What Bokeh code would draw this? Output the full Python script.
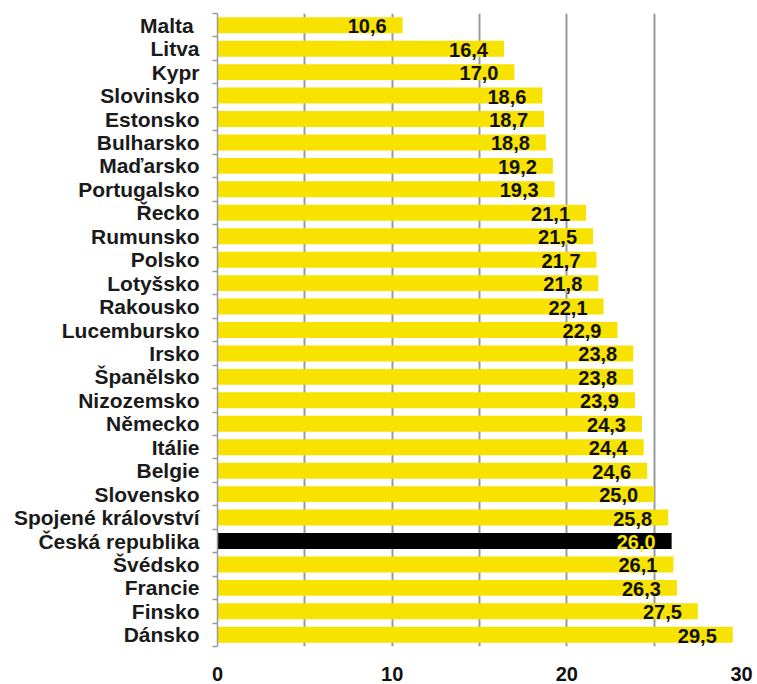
from bokeh.plotting import figure
from bokeh.models import Range1d, FixedTicker, ColumnDataSource
from bokeh.core.properties import value
from bokeh.embed import file_html
from bokeh.resources import INLINE

countries = ["Malta ", "Litva", "Kypr", "Slovinsko", "Estonsko", "Bulharsko", "Maďarsko",
             "Portugalsko", "Řecko", "Rumunsko", "Polsko", "Lotyšsko", "Rakousko",
             "Lucembursko", "Irsko", "Španělsko", "Nizozemsko", "Německo", "Itálie",
             "Belgie", "Slovensko", "Spojené království", "Česká republika", "Švédsko",
             "Francie", "Finsko", "Dánsko"]
values = [10.6, 16.4, 17.0, 18.6, 18.7, 18.8, 19.2, 19.3, 21.1, 21.5, 21.7, 21.8, 22.1,
          22.9, 23.8, 23.8, 23.9, 24.3, 24.4, 24.6, 25.0, 25.8, 26.0, 26.1, 26.3, 27.5, 29.5]
x_ticks = [0, 10, 20, 30]
grid_ticks = [5, 10, 15, 20, 25, 30]
highlight = "Česká republika"

YELLOW = "#F7E200"
n = len(countries)
idx = list(range(n))
bar_colors = ["#000000" if c == highlight else YELLOW for c in countries]
text_colors = [YELLOW if c == highlight else "#111111" for c in countries]
labels = [f"{v:.1f}".replace(".", ",") for v in values]

src = ColumnDataSource(dict(y=idx, v=values, bc=bar_colors, tc=text_colors, lab=labels))

p = figure(width=756, height=683, output_backend="svg", toolbar_location=None,
           x_range=Range1d(0, 30), y_range=Range1d(n - 0.5, -0.5),
           min_border_left=217, min_border_right=15, min_border_top=13, min_border_bottom=34)
p.outline_line_color = None
p.background_fill_color = "white"

p.hbar(y="y", left=0, right="v", height=0.68, fill_color="bc", line_color=None, source=src)
p.text(x="v", y="y", text="lab", text_color="tc", text_align="right", text_baseline="middle",
       x_offset=-16, y_offset=1, text_font=value("Liberation Sans"), text_font_style="bold",
       text_font_size="20px", source=src)

# x axis
p.xaxis.ticker = FixedTicker(ticks=x_ticks)
p.xaxis.axis_line_color = None
p.xaxis.major_tick_line_color = None
p.xaxis.minor_tick_line_color = None
p.xaxis.major_label_standoff = 14
p.xaxis.major_label_text_font = "Liberation Sans"
p.xaxis.major_label_text_font_style = "bold"
p.xaxis.major_label_text_font_size = "20px"
p.xaxis.major_label_text_color = "#111111"

p.xgrid.ticker = FixedTicker(ticks=grid_ticks)
p.xgrid.grid_line_color = "#9a9a9a"
p.xgrid.grid_line_width = 2
p.ygrid.grid_line_color = None

# y axis
p.yaxis.ticker = FixedTicker(ticks=idx, minor_ticks=[i - 0.5 for i in range(n + 1)])
p.yaxis.major_label_overrides = {i: c for i, c in enumerate(countries)}
p.yaxis.major_tick_line_color = None
p.yaxis.minor_tick_line_color = "#9a9a9a"
p.yaxis.minor_tick_out = 5
p.yaxis.minor_tick_in = 0
p.yaxis.minor_tick_line_width = 1.5
p.yaxis.axis_line_color = "#9a9a9a"
p.yaxis.axis_line_width = 1.5
p.yaxis.major_label_standoff = 12
p.yaxis.major_label_text_font = "Liberation Sans"
p.yaxis.major_label_text_font_style = "bold"
p.yaxis.major_label_text_font_size = "21px"
p.yaxis.major_label_text_color = "#1a1a1a"

open("out.html", "w").write(file_html(p, INLINE))
